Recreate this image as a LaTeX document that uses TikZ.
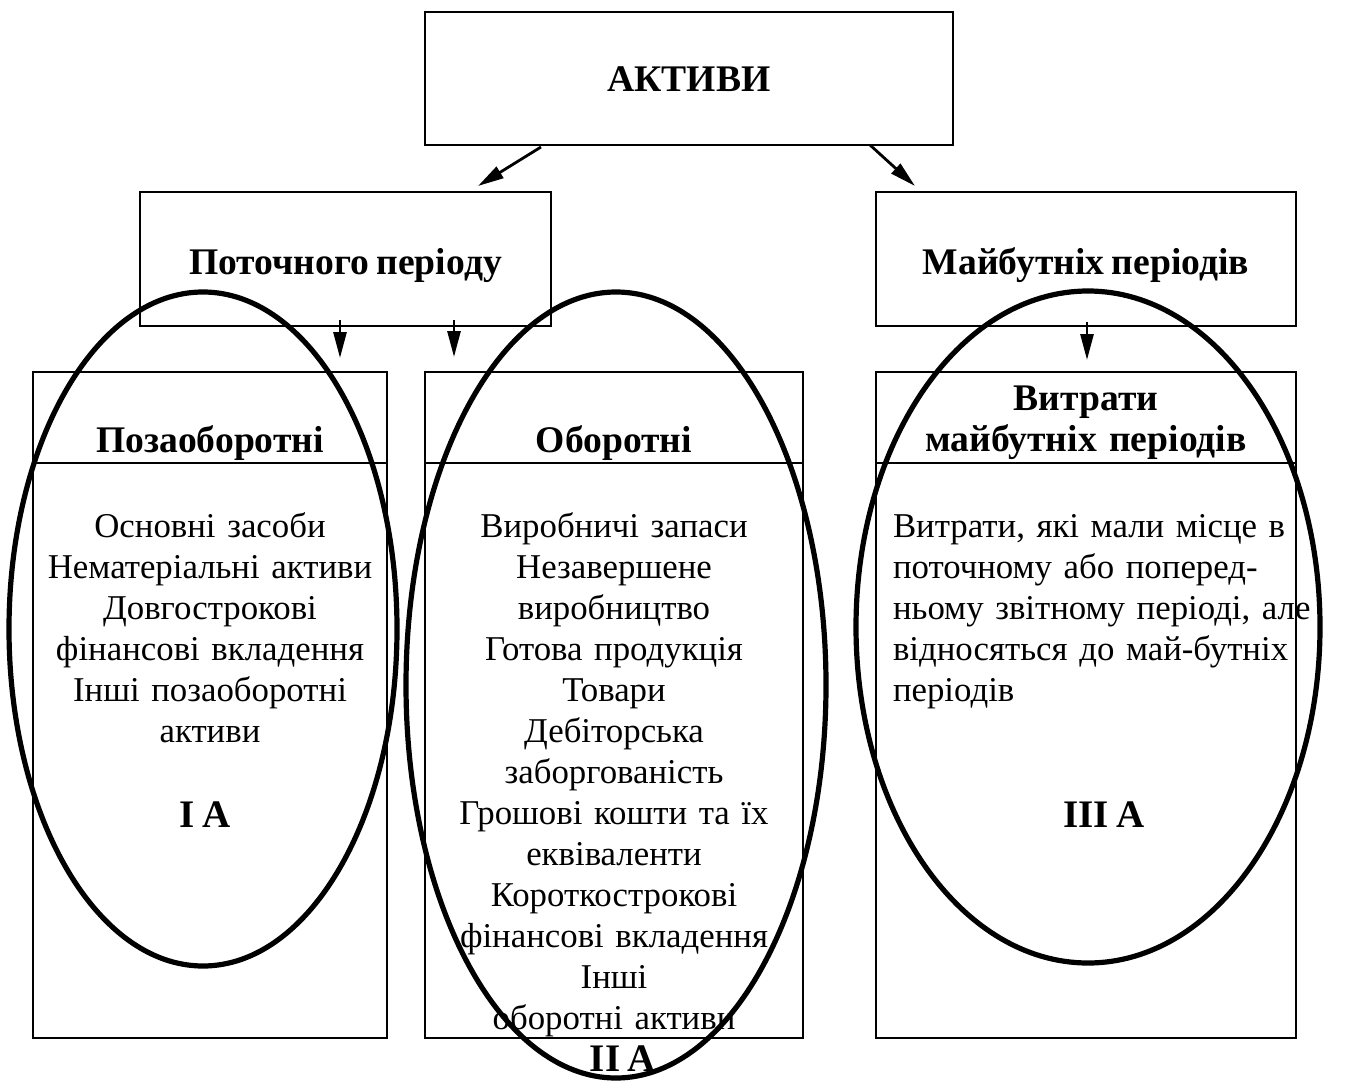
\documentclass[tikz,border=0pt]{standalone}
\usepackage{fontspec}
\setmainfont[WordSpace=0.8]{Liberation Serif}
\usetikzlibrary{arrows.meta}
\begin{document}
\begin{tikzpicture}[x=0.5pt,y=-0.5pt,
  every node/.style={inner sep=0pt,outer sep=0pt},
  frame/.style={draw,line width=1.3pt,rectangle},
  txt/.style={font=\fontsize{17.4}{20.5}\selectfont},
  head/.style={font=\fontsize{18.8}{21}\selectfont\bfseries},
  mark label/.style={font=\fontsize{19.5}{21}\selectfont\bfseries},
  link/.style={line width=1.4pt,-{Triangle[length=13pt,width=6.5pt]}},
  oval/.style={line width=2.6pt}]
\useasboundingbox (0,0) rectangle (1347,1080);

% frames
\node[frame,minimum width=264pt,minimum height=66.5pt] (assets) at (689,78.5) {};
\node[frame,minimum width=205.5pt,minimum height=67pt] (current) at (345.5,259) {};
\node[frame,minimum width=210pt,minimum height=67pt] (future) at (1086,259) {};
\node[frame,minimum width=177pt,minimum height=333pt] (noncur) at (210,705) {};
\node[frame,minimum width=189pt,minimum height=333pt] (circ) at (614,705) {};
\node[frame,minimum width=210pt,minimum height=333pt] (deferred) at (1086,705) {};

% header dividers
\draw[line width=1.3pt] (noncur.west |- 0,463) -- (noncur.east |- 0,463);
\draw[line width=1.3pt] (circ.west |- 0,463) -- (circ.east |- 0,463);
\draw[line width=1.3pt] (deferred.west |- 0,463) -- (deferred.east |- 0,463);

% headings
\node[head,anchor=base] (tA) at (689,92) {АКТИВИ};
\node[head,anchor=base] (tC) at (345.5,275) {Поточного періоду};
\node[head,anchor=base] (tF) at (1086,275) {Майбутніх періодів};
\node[head,anchor=base] (tN) at (210,452) {Позаоборотні};
\node[head,anchor=base] (tO) at (614,452) {Оборотні};
\node[head,anchor=base,text width=205pt,align=center] (tD) at (1086,410) {Витрати\\[-0.5pt]майбутніх періодів};

% contents
\node[txt,anchor=base,text width=176pt,align=center] (bN) at (210,537)
  {Основні засоби\\Нематеріальні активи\\Довгострокові\\фінансові вкладення\\Інші позаоборотні\\активи};
\node[txt,anchor=base,text width=188pt,align=center] (bO) at (614,537)
  {Виробничі запаси\\Незавершене\\виробництво\\Готова продукція\\Товари\\Дебіторська\\заборгованість\\Грошові кошти та їх\\еквіваленти\\Короткострокові\\фінансові вкладення\\Інші\\оборотні активи};
\node[txt,anchor=base west,text width=216pt,align=left] (bD) at (893,537)
  {Витрати, які мали місце в\\поточному або поперед-\\ньому звітному періоді, але\\відносяться до май-бутніх\\періодів};

% group labels
\node[mark label,anchor=base] (g1) at (205,827) {І А};
\node[mark label,anchor=base] (g2) at (623,1071) {ІІ А};
\node[mark label,anchor=base] (g3) at (1104,827) {ІІІ А};

% connectors
\coordinate (a1s) at (541,147); \coordinate (a1e) at (478,186);
\coordinate (a2s) at (870,145); \coordinate (a2e) at (915,186);
\coordinate (a3s) at (340,320); \coordinate (a3e) at (340,358);
\coordinate (a4s) at (454,320); \coordinate (a4e) at (454,357);
\coordinate (a5s) at (1087,322); \coordinate (a5e) at (1087,360);
\draw[link] (a1s) -- (a1e);
\draw[link] (a2s) -- (a2e);
\draw[link] (a3s) -- (a3e);
\draw[link] (a4s) -- (a4e);
\draw[link] (a5s) -- (a5e);

% grouping ovals
\draw[oval] (203,629) ellipse [x radius=194, y radius=337];
\draw[oval] (616,685) ellipse [x radius=210, y radius=393];
\draw[oval] (1088,627) ellipse [x radius=232, y radius=336];
\end{tikzpicture}
\end{document}
